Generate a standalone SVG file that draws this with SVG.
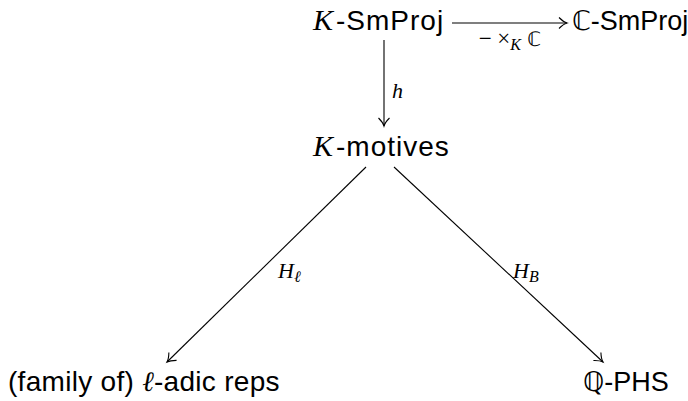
<svg xmlns="http://www.w3.org/2000/svg" width="688" height="401" viewBox="0 0 688 401">
<defs>
<style>
.t{font-family:"Liberation Sans","DejaVu Sans",sans-serif;font-size:28px;fill:#000}
.m{font-family:"Liberation Serif","DejaVu Serif",serif;font-style:italic;font-size:30px;letter-spacing:0}
.bb{font-family:"DejaVu Sans",sans-serif;font-style:normal}
.lbl{font-family:"Liberation Serif","DejaVu Serif",serif;font-style:italic;font-size:22px;fill:#000}
.c{stroke:#000;stroke-width:1.1;fill:none;marker-end:url(#arr)}
</style>
<marker id="arr" markerUnits="userSpaceOnUse" markerWidth="20" markerHeight="20" viewBox="-10 -10 20 20" refX="0" refY="0" orient="auto">
<path d="M-8,-5.5 C-5,-2.5 -2,-0.6 0,0 C-2,0.6 -5,2.5 -8,5.5" stroke="#000" stroke-width="1.1" fill="none"/>
</marker>
</defs>
<g id="ksmproj"><text class="t" x="313" y="30"><tspan class="m">K</tspan><tspan dx="3" letter-spacing="1">-SmProj</tspan></text></g>
<g id="csmproj"><text class="t" x="572" y="30" style="font-size:27px"><tspan class="bb">ℂ</tspan>-SmProj</text></g>
<g id="kmotives"><text class="t" x="313" y="156"><tspan class="m">K</tspan><tspan dx="3" letter-spacing="1">-motives</tspan></text></g>
<g id="ladic"><text class="t" x="8" y="391" letter-spacing="0.3">(family of) <tspan class="m" style="font-size:28px">ℓ</tspan>-adic reps</text></g>
<g id="qphs"><text class="t" x="583" y="391" style="font-size:27px"><tspan class="bb">ℚ</tspan>-PHS</text></g>
<g id="connectors">
<line class="c" x1="452" y1="23" x2="567" y2="23"/>
<line class="c" x1="384" y1="40" x2="384" y2="126"/>
<line class="c" x1="366" y1="167" x2="167" y2="362"/>
<line class="c" x1="394" y1="167" x2="603" y2="362"/>
<text class="lbl" x="510" y="46" text-anchor="middle" style="font-size:23px"><tspan font-style="normal">− ×</tspan><tspan font-size="16" dy="4">K</tspan><tspan class="bb" font-size="20" dy="-4"> ℂ</tspan></text>
<text class="lbl" x="392" y="98">h</text>
<text class="lbl" x="278" y="278">H<tspan font-size="16" dy="4">ℓ</tspan></text>
<text class="lbl" x="513" y="278">H<tspan font-size="16" dy="4">B</tspan></text>
</g>
</svg>
